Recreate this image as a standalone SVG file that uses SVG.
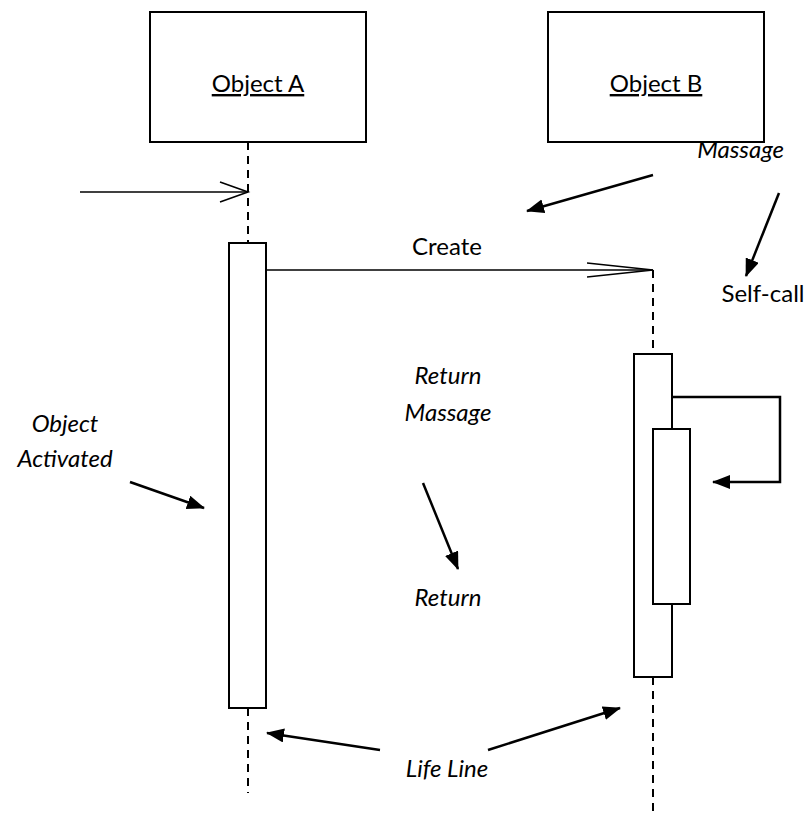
<svg xmlns="http://www.w3.org/2000/svg" width="806" height="817" viewBox="0 0 806 817">
  <style>
    .box { fill: #fff; stroke: #000; stroke-width: 2; }
    .life { fill: none; stroke: #000; stroke-width: 2; stroke-dasharray: 8 6; }
    .note { fill: none; stroke: #000; stroke-width: 2.5; marker-end: url(#solid); }
    .msg { fill: none; stroke: #000; stroke-width: 1.6; }
    text { font-family: Lato, "Open Sans", sans-serif; font-size: 24px; fill: #000; }
    .it { font-style: italic; }
  </style>
  <defs>
    <marker id="solid" markerUnits="userSpaceOnUse" markerWidth="20" markerHeight="16" refX="17" refY="7" orient="auto">
      <path d="M0,0 L18,7 L0,14 Z" fill="#000"/>
    </marker>
    <marker id="open-short" markerUnits="userSpaceOnUse" markerWidth="32" markerHeight="24" refX="29" refY="11" orient="auto">
      <path d="M1,1 L29,11 L1,21" fill="none" stroke="#000" stroke-width="1.6"/>
    </marker>
    <marker id="open-long" markerUnits="userSpaceOnUse" markerWidth="70" markerHeight="20" refX="66" refY="9" orient="auto">
      <path d="M0,2 L66,9 L0,16" fill="none" stroke="#000" stroke-width="1.6"/>
    </marker>
  </defs>
  <rect width="806" height="817" fill="#fff"/>

  <!-- lifelines -->
  <g id="lifelines">
    <line class="life" x1="248" y1="142" x2="248" y2="243"/>
    <line class="life" x1="248" y1="708" x2="248" y2="793"/>
    <line class="life" x1="653" y1="270" x2="653" y2="354"/>
    <line class="life" x1="653" y1="677" x2="653" y2="817"/>
  </g>

  <g id="object-a">
    <rect class="box" x="150" y="12" width="216" height="130"/>
    <text x="258" y="92" text-anchor="middle" text-decoration="underline">Object A</text>
  </g>
  <g id="object-b">
    <rect class="box" x="548" y="12" width="216" height="130"/>
    <text x="656" y="92" text-anchor="middle" text-decoration="underline">Object B</text>
  </g>

  <g id="activation-a">
    <rect class="box" x="229" y="243" width="37" height="465"/>
  </g>
  <g id="activation-b">
    <rect class="box" x="634" y="354" width="38" height="323"/>
  </g>
  <g id="activation-b-self">
    <rect class="box" x="653" y="429" width="37" height="175"/>
  </g>

  <!-- messages and pointers -->
  <g id="connectors">
    <line class="msg" x1="80" y1="192" x2="248" y2="192" marker-end="url(#open-short)"/>
    <line class="msg" x1="266" y1="270" x2="653" y2="270" marker-end="url(#open-long)"/>
    <polyline class="note" points="672,397 780,397 780,482 713,482"/>
    <line class="note" x1="653" y1="175" x2="527" y2="211"/>
    <line class="note" x1="779" y1="193" x2="746" y2="276"/>
    <line class="note" x1="423" y1="483" x2="458" y2="569"/>
    <line class="note" x1="130" y1="482" x2="204" y2="508"/>
    <line class="note" x1="380" y1="750" x2="267" y2="733"/>
    <line class="note" x1="488" y1="750" x2="620" y2="708"/>
  </g>

  <g id="labels">
    <text x="447" y="255" text-anchor="middle">Create</text>
    <text class="it" x="784" y="158" text-anchor="end">Massage</text>
    <text x="763" y="302" text-anchor="middle">Self-call</text>
    <text class="it" x="448" y="384" text-anchor="middle">Return</text>
    <text class="it" x="448" y="421" text-anchor="middle">Massage</text>
    <text class="it" x="448" y="606" text-anchor="middle">Return</text>
    <text class="it" x="65" y="432" text-anchor="middle">Object</text>
    <text class="it" x="65" y="467" text-anchor="middle">Activated</text>
    <text class="it" x="447" y="777" text-anchor="middle">Life Line</text>
  </g>
</svg>
